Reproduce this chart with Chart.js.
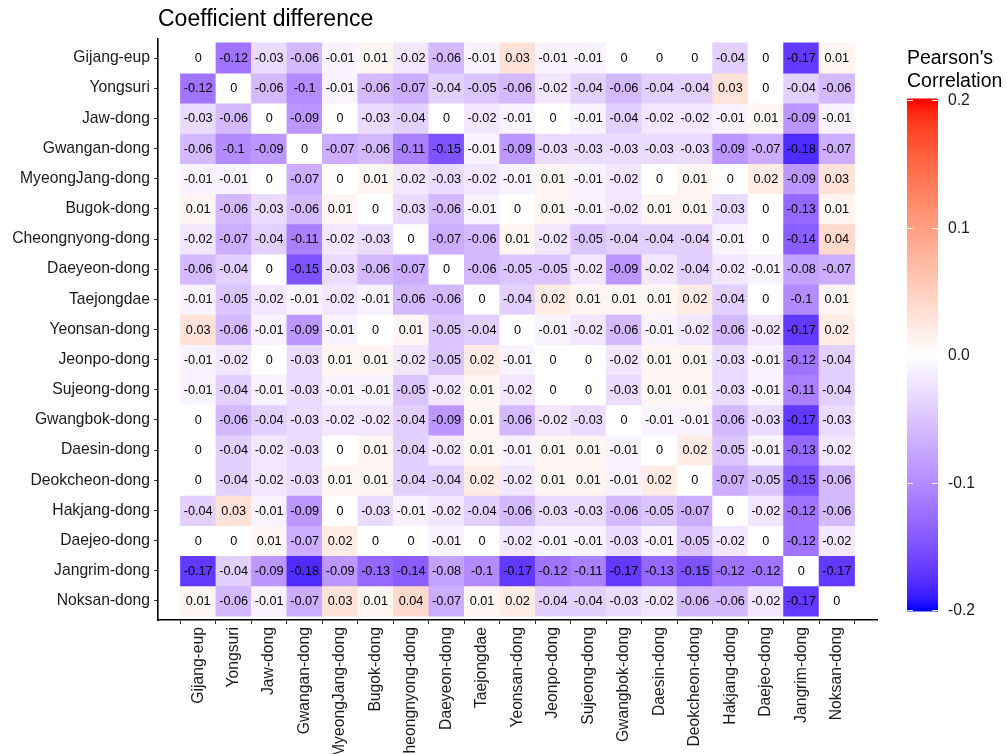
<!DOCTYPE html>
<html>
<head>
<meta charset="utf-8">
<script src="https://cdn.jsdelivr.net/npm/chart.js@4.4.1/dist/chart.umd.min.js"></script>
<style>
  html, body { margin: 0; padding: 0; background: #ffffff; }
  #wrap { width: 1007px; height: 754px; }
</style>
</head>
<body>
<div id="wrap"><canvas id="heat" width="1007" height="754"></canvas></div>
<script>
// Districts, in the same order on both axes (rows top to bottom, columns left to right)
const districts = [
  'Gijang-eup', 'Yongsuri', 'Jaw-dong', 'Gwangan-dong', 'MyeongJang-dong', 'Bugok-dong',
  'Cheongnyong-dong', 'Daeyeon-dong', 'Taejongdae', 'Yeonsan-dong', 'Jeonpo-dong',
  'Sujeong-dong', 'Gwangbok-dong', 'Daesin-dong', 'Deokcheon-dong', 'Hakjang-dong',
  'Daejeo-dong', 'Jangrim-dong', 'Noksan-dong'
];

// Coefficient differences, one array per row district
const gijangEup      = [0, -0.12, -0.03, -0.06, -0.01, 0.01, -0.02, -0.06, -0.01, 0.03, -0.01, -0.01, 0, 0, 0, -0.04, 0, -0.17, 0.01];
const yongsuri       = [-0.12, 0, -0.06, -0.1, -0.01, -0.06, -0.07, -0.04, -0.05, -0.06, -0.02, -0.04, -0.06, -0.04, -0.04, 0.03, 0, -0.04, -0.06];
const jawDong        = [-0.03, -0.06, 0, -0.09, 0, -0.03, -0.04, 0, -0.02, -0.01, 0, -0.01, -0.04, -0.02, -0.02, -0.01, 0.01, -0.09, -0.01];
const gwanganDong    = [-0.06, -0.1, -0.09, 0, -0.07, -0.06, -0.11, -0.15, -0.01, -0.09, -0.03, -0.03, -0.03, -0.03, -0.03, -0.09, -0.07, -0.18, -0.07];
const myeongJangDong = [-0.01, -0.01, 0, -0.07, 0, 0.01, -0.02, -0.03, -0.02, -0.01, 0.01, -0.01, -0.02, 0, 0.01, 0, 0.02, -0.09, 0.03];
const bugokDong      = [0.01, -0.06, -0.03, -0.06, 0.01, 0, -0.03, -0.06, -0.01, 0, 0.01, -0.01, -0.02, 0.01, 0.01, -0.03, 0, -0.13, 0.01];
const cheongnyongDong= [-0.02, -0.07, -0.04, -0.11, -0.02, -0.03, 0, -0.07, -0.06, 0.01, -0.02, -0.05, -0.04, -0.04, -0.04, -0.01, 0, -0.14, 0.04];
const daeyeonDong    = [-0.06, -0.04, 0, -0.15, -0.03, -0.06, -0.07, 0, -0.06, -0.05, -0.05, -0.02, -0.09, -0.02, -0.04, -0.02, -0.01, -0.08, -0.07];
const taejongdae     = [-0.01, -0.05, -0.02, -0.01, -0.02, -0.01, -0.06, -0.06, 0, -0.04, 0.02, 0.01, 0.01, 0.01, 0.02, -0.04, 0, -0.1, 0.01];
const yeonsanDong    = [0.03, -0.06, -0.01, -0.09, -0.01, 0, 0.01, -0.05, -0.04, 0, -0.01, -0.02, -0.06, -0.01, -0.02, -0.06, -0.02, -0.17, 0.02];
const jeonpoDong     = [-0.01, -0.02, 0, -0.03, 0.01, 0.01, -0.02, -0.05, 0.02, -0.01, 0, 0, -0.02, 0.01, 0.01, -0.03, -0.01, -0.12, -0.04];
const sujeongDong    = [-0.01, -0.04, -0.01, -0.03, -0.01, -0.01, -0.05, -0.02, 0.01, -0.02, 0, 0, -0.03, 0.01, 0.01, -0.03, -0.01, -0.11, -0.04];
const gwangbokDong   = [0, -0.06, -0.04, -0.03, -0.02, -0.02, -0.04, -0.09, 0.01, -0.06, -0.02, -0.03, 0, -0.01, -0.01, -0.06, -0.03, -0.17, -0.03];
const daesinDong     = [0, -0.04, -0.02, -0.03, 0, 0.01, -0.04, -0.02, 0.01, -0.01, 0.01, 0.01, -0.01, 0, 0.02, -0.05, -0.01, -0.13, -0.02];
const deokcheonDong  = [0, -0.04, -0.02, -0.03, 0.01, 0.01, -0.04, -0.04, 0.02, -0.02, 0.01, 0.01, -0.01, 0.02, 0, -0.07, -0.05, -0.15, -0.06];
const hakjangDong    = [-0.04, 0.03, -0.01, -0.09, 0, -0.03, -0.01, -0.02, -0.04, -0.06, -0.03, -0.03, -0.06, -0.05, -0.07, 0, -0.02, -0.12, -0.06];
const daejeoDong     = [0, 0, 0.01, -0.07, 0.02, 0, 0, -0.01, 0, -0.02, -0.01, -0.01, -0.03, -0.01, -0.05, -0.02, 0, -0.12, -0.02];
const jangrimDong    = [-0.17, -0.04, -0.09, -0.18, -0.09, -0.13, -0.14, -0.08, -0.1, -0.17, -0.12, -0.11, -0.17, -0.13, -0.15, -0.12, -0.12, 0, -0.17];
const noksanDong     = [0.01, -0.06, -0.01, -0.07, 0.03, 0.01, 0.04, -0.07, 0.01, 0.02, -0.04, -0.04, -0.03, -0.02, -0.06, -0.06, -0.02, -0.17, 0];

const rowValues = [
  gijangEup, yongsuri, jawDong, gwanganDong, myeongJangDong, bugokDong, cheongnyongDong,
  daeyeonDong, taejongdae, yeonsanDong, jeonpoDong, sujeongDong, gwangbokDong, daesinDong,
  deokcheonDong, hakjangDong, daejeoDong, jangrimDong, noksanDong
];

// Colour bar limits and breaks
const scaleLimits = [-0.2, 0.2];
const scaleBreaks = [0.2, 0.1, 0.0, -0.1, -0.2];
const scaleBreakLabels = ['0.2', '0.1', '0.0', '-0.1', '-0.2'];

const FONT = '"Liberation Sans", Arial, Helvetica, sans-serif';

// ---- diverging blue-white-red palette, interpolated in CIE Lab ----
function toLin(c) { c /= 255; return c <= 0.04045 ? c / 12.92 : Math.pow((c + 0.055) / 1.055, 2.4); }
function fromLin(c) { const v = c <= 0.0031308 ? 12.92 * c : 1.055 * Math.pow(c, 1 / 2.4) - 0.055; return Math.max(0, Math.min(255, Math.round(v * 255))); }
const WX = 0.95047, WY = 1.0, WZ = 1.08883;
function fLab(t) { return t > 216 / 24389 ? Math.cbrt(t) : (24389 / 27 * t + 16) / 116; }
function fInv(t) { const t3 = t * t * t; return t3 > 216 / 24389 ? t3 : (116 * t - 16) / (24389 / 27); }
function rgbToLab(rgb) {
  const r = toLin(rgb[0]), g = toLin(rgb[1]), b = toLin(rgb[2]);
  const X = 0.4124564 * r + 0.3575761 * g + 0.1804375 * b;
  const Y = 0.2126729 * r + 0.7151522 * g + 0.0721750 * b;
  const Z = 0.0193339 * r + 0.1191920 * g + 0.9503041 * b;
  const fx = fLab(X / WX), fy = fLab(Y / WY), fz = fLab(Z / WZ);
  return [116 * fy - 16, 500 * (fx - fy), 200 * (fy - fz)];
}
function labToRgb(lab) {
  const fy = (lab[0] + 16) / 116, fx = fy + lab[1] / 500, fz = fy - lab[2] / 200;
  const X = fInv(fx) * WX, Y = fInv(fy) * WY, Z = fInv(fz) * WZ;
  const r = 3.2404542 * X - 1.5371385 * Y - 0.4985314 * Z;
  const g = -0.9692660 * X + 1.8760108 * Y + 0.0415560 * Z;
  const b = 0.0556434 * X - 0.2040259 * Y + 1.0572252 * Z;
  return [fromLin(r), fromLin(g), fromLin(b)];
}
const LAB_LOW = rgbToLab([0, 0, 255]);
const LAB_MID = rgbToLab([255, 255, 255]);
const LAB_HIGH = rgbToLab([255, 0, 0]);
function fillFor(v) {
  let t = v / scaleLimits[1];
  t = Math.max(-1, Math.min(1, t));
  const end = t < 0 ? LAB_LOW : LAB_HIGH;
  const a = Math.abs(t);
  const lab = [0, 1, 2].map(k => LAB_MID[k] + (end[k] - LAB_MID[k]) * a);
  const c = labToRgb(lab);
  return 'rgb(' + c[0] + ',' + c[1] + ',' + c[2] + ')';
}
function fmt(v) { return String(Math.round(v * 100) / 100 + 0); }

// ---- one floating-bar dataset per row; each bar is one tile ----
const datasets = rowValues.map((vals, r) => ({
  label: districts[r],
  data: vals.map((v, c) => ({ x: c, y: [r - 0.5, r + 0.5] })),
  backgroundColor: vals.map(fillFor),
  borderWidth: 0,
  grouped: false,
  barPercentage: 1,
  categoryPercentage: 1
}));

// Value text in every tile
const tileText = {
  id: 'tileText',
  afterDatasetsDraw(chart) {
    const ctx = chart.ctx;
    ctx.save();
    ctx.font = '12.7px ' + FONT;
    ctx.fillStyle = '#000000';
    ctx.textAlign = 'center';
    ctx.textBaseline = 'middle';
    chart.data.datasets.forEach((ds, di) => {
      const meta = chart.getDatasetMeta(di);
      meta.data.forEach((el, i) => {
        const p = el.getProps(['x', 'y', 'base'], true);
        ctx.fillText(fmt(rowValues[di][i]), p.x, (p.y + p.base) / 2 + 0.5);
      });
    });
    ctx.restore();
  }
};

// Plot title and colour bar guide
const titleAndGuide = {
  id: 'titleAndGuide',
  afterDraw(chart) {
    const ctx = chart.ctx;
    ctx.save();
    // title
    ctx.fillStyle = '#000000';
    ctx.font = '23px ' + FONT;
    ctx.textAlign = 'left';
    ctx.textBaseline = 'alphabetic';
    ctx.fillText('Coefficient difference', 158, 26);

    // guide title
    ctx.font = '19.5px ' + FONT;
    ctx.fillText("Pearson's", 907, 64);
    ctx.fillText('Correlation', 907, 87);

    // colour bar
    const barX = 907, barW = 31;
    const yTop = 100, yBot = 610;
    const pos = v => yTop + (scaleLimits[1] - v) / (scaleLimits[1] - scaleLimits[0]) * (yBot - yTop);
    const grad = ctx.createLinearGradient(0, yTop, 0, yBot);
    const steps = 40;
    for (let i = 0; i <= steps; i++) {
      const v = scaleLimits[1] - (scaleLimits[1] - scaleLimits[0]) * i / steps;
      grad.addColorStop(i / steps, fillFor(v));
    }
    ctx.fillStyle = grad;
    ctx.fillRect(barX, yTop - 1.5, barW, (yBot - yTop) + 3);

    // ticks on the bar
    ctx.strokeStyle = 'rgba(255,255,255,0.9)';
    ctx.lineWidth = 1;
    scaleBreaks.forEach(v => {
      const y = Math.round(pos(v)) + 0.5;
      ctx.beginPath();
      ctx.moveTo(barX, y); ctx.lineTo(barX + 6, y);
      ctx.moveTo(barX + barW - 6, y); ctx.lineTo(barX + barW, y);
      ctx.stroke();
    });

    // break labels
    ctx.fillStyle = '#1a1a1a';
    ctx.font = '15.7px ' + FONT;
    ctx.textBaseline = 'middle';
    scaleBreaks.forEach((v, i) => {
      ctx.fillText(scaleBreakLabels[i], 948, pos(v) + 1);
    });
    ctx.restore();
  }
};

new Chart(document.getElementById('heat'), {
  type: 'bar',
  data: { datasets },
  options: {
    responsive: false,
    devicePixelRatio: 1,
    animation: false,
    events: [],
    layout: { padding: { top: 39, right: 130, bottom: 0, left: 0 } },
    plugins: {
      legend: { display: false },
      tooltip: { enabled: false },
      title: { display: false }
    },
    scales: {
      x: {
        type: 'linear',
        min: -0.6,
        max: districts.length - 1 + 0.6,
        afterBuildTicks(scale) { scale.ticks = districts.map((d, i) => ({ value: i })); },
        afterFit(scale) { scale.height = 134; },
        ticks: {
          autoSkip: false,
          maxRotation: 90,
          minRotation: 90,
          padding: 3,
          color: '#1a1a1a',
          font: { family: FONT, size: 15.7 },
          callback: (v) => districts[v]
        },
        grid: { drawOnChartArea: false, drawTicks: true, tickLength: 4, tickColor: '#333333', tickWidth: 1 },
        border: { display: true, color: '#000000', width: 1.6 }
      },
      y: {
        type: 'linear',
        reverse: true,
        min: -0.63,
        max: districts.length - 1 + 0.63,
        afterBuildTicks(scale) { scale.ticks = districts.map((d, i) => ({ value: i })); },
        afterFit(scale) { scale.width = 158; },
        ticks: {
          autoSkip: false,
          padding: 4,
          color: '#1a1a1a',
          font: { family: FONT, size: 15.7 },
          callback: (v) => districts[v]
        },
        grid: { drawOnChartArea: false, drawTicks: true, tickLength: 4, tickColor: '#333333', tickWidth: 1 },
        border: { display: true, color: '#000000', width: 1.6 }
      }
    }
  },
  plugins: [tileText, titleAndGuide]
});
</script>
</body>
</html>
